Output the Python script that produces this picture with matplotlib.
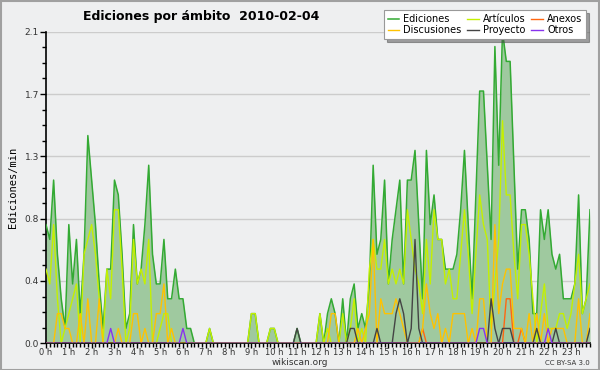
import numpy as np
import matplotlib
matplotlib.use("Agg")
import matplotlib.pyplot as plt
from matplotlib.patches import Rectangle

# 10-minute bins, edits per minute
ediciones = [
    0.8, 0.7, 1.1, 0.6, 0.3, 0.1,
    0.8, 0.4, 0.7, 0.2, 0.6, 1.4,
    1.1, 0.8, 0.4, 0.1, 0.5, 0.5,
    1.1, 1.0, 0.6, 0.1, 0.2, 0.8,
    0.4, 0.5, 0.8, 1.2, 0.6, 0.4,
    0.4, 0.7, 0.3, 0.3, 0.5, 0.3,
    0.3, 0.1, 0.1, 0, 0, 0,
    0, 0.1, 0, 0, 0, 0,
    0, 0, 0, 0, 0, 0,
    0.2, 0.2, 0, 0, 0, 0.1,
    0.1, 0, 0, 0, 0, 0,
    0.1, 0, 0, 0, 0, 0,
    0.2, 0, 0.2, 0.3, 0.2, 0,
    0.3, 0, 0.3, 0.4, 0.1, 0.2,
    0.1, 0.4, 1.2, 0.6, 0.7, 1.1,
    0.4, 0.7, 0.9, 1.1, 0.4, 1.1,
    1.1, 1.3, 0.8, 0.3, 1.3, 0.8,
    1.0, 0.7, 0.7, 0.5, 0.5, 0.5,
    0.6, 0.9, 1.3, 0.8, 0.3, 1.0,
    1.7, 1.7, 1.2, 0.7, 2.0, 1.2,
    2.1, 1.9, 1.9, 1.2, 0.5, 0.9,
    0.9, 0.7, 0.2, 0.2, 0.9, 0.7,
    0.9, 0.6, 0.5, 0.6, 0.3, 0.3,
    0.3, 0.4, 1.0, 0.2, 0.3, 0.9,
]
articulos = [
    0.5, 0.4, 0.8, 0.3, 0, 0.1,
    0.2, 0.3, 0.4, 0, 0.6, 0.7,
    0.8, 0.6, 0.3, 0, 0.5, 0.3,
    0.9, 0.9, 0.5, 0, 0.1, 0.7,
    0.4, 0.5, 0.4, 0.7, 0, 0,
    0.1, 0.2, 0.2, 0, 0, 0,
    0, 0, 0, 0, 0, 0,
    0, 0.1, 0, 0, 0, 0,
    0, 0, 0, 0, 0, 0,
    0.2, 0.2, 0, 0, 0, 0.1,
    0.1, 0, 0, 0, 0, 0,
    0, 0, 0, 0, 0, 0,
    0.2, 0, 0.1, 0, 0, 0,
    0.2, 0, 0.1, 0.3, 0, 0.1,
    0, 0.5, 0.7, 0.5, 0.5, 0.7,
    0.4, 0.5, 0.4, 0.5, 0.4, 0.9,
    0.7, 0.5, 0.4, 0.2, 0.7, 0.4,
    0.9, 0.7, 0.7, 0.4, 0.5, 0.3,
    0.3, 0.6, 0.9, 0.6, 0.2, 0.6,
    1.0, 0.8, 0.7, 0.1, 0.4, 0.7,
    1.5, 1.0, 1.0, 0.6, 0.3, 0.8,
    0.8, 0.6, 0.3, 0, 0.2, 0.4,
    0.1, 0.1, 0.1, 0.2, 0.2, 0.1,
    0.2, 0.4, 0.6, 0.2, 0.3, 0.4,
]
discusiones = [
    0, 0, 0, 0.2, 0.2, 0.1,
    0.1, 0, 0, 0.2, 0, 0.3,
    0, 0, 0.3, 0, 0, 0,
    0, 0.1, 0, 0, 0, 0.2,
    0.2, 0, 0.1, 0, 0, 0.2,
    0.2, 0.4, 0, 0.1, 0, 0,
    0, 0, 0, 0, 0, 0,
    0, 0, 0, 0, 0, 0,
    0, 0, 0, 0, 0, 0,
    0, 0, 0, 0, 0, 0,
    0, 0, 0, 0, 0, 0,
    0, 0, 0, 0, 0, 0,
    0, 0, 0, 0.2, 0.2, 0,
    0, 0, 0, 0, 0.1, 0,
    0.1, 0.2, 0.7, 0, 0.3, 0.2,
    0.2, 0.2, 0.3, 0.2, 0.1, 0,
    0, 0, 0, 0.1, 0.4, 0.2,
    0.1, 0.2, 0, 0.1, 0, 0.2,
    0.2, 0.2, 0.2, 0, 0.1, 0,
    0.3, 0.3, 0, 0, 0.8, 0.2,
    0.4, 0.5, 0.5, 0.1, 0.1, 0.1,
    0, 0.2, 0, 0.2, 0, 0.2,
    0, 0.1, 0.1, 0.1, 0.1, 0,
    0, 0, 0.3, 0, 0, 0.2,
]
# sparse series: {bin index: value}
proyecto_pts = {66: 0.1, 80: 0.1, 81: 0.1, 87: 0.1, 92: 0.2, 93: 0.3, 94: 0.2,
                96: 0.1, 97: 0.7, 98: 0.1, 117: 0.3, 118: 0.1, 120: 0.1,
                121: 0.1, 122: 0.1, 129: 0.1, 134: 0.1, 143: 0.1}
anexos_pts = {99: 0.1, 121: 0.3, 122: 0.3, 125: 0.1}
otros_pts = {17: 0.1, 36: 0.1, 114: 0.1, 115: 0.1, 132: 0.1}

hour_labels = ["%d h" % h for h in range(24)]


def sparse(pts, n=144):
    out = np.zeros(n)
    for k, v in pts.items():
        out[k] = v
    return out


x = np.arange(144) / 6.0
proyecto = sparse(proyecto_pts)
anexos = sparse(anexos_pts)
otros = sparse(otros_pts)

bg = "#eeeff0"
fig = plt.figure(figsize=(6, 3.7), dpi=100, facecolor=bg)
ax = fig.add_axes([46 / 600, 26.7 / 370, 544 / 600, 311.6 / 370], facecolor=bg)
fig.patches.append(Rectangle((0.001, 0.001), 0.997, 0.996, transform=fig.transFigure,
                             fill=False, edgecolor="#a0a0a0", lw=1.5))

ax.fill_between(x, ediciones, 0, color="#9fc99f", lw=0, zorder=1)
l_ed, = ax.plot(x, ediciones, color="#33aa33", lw=1.1, zorder=3)
l_ar, = ax.plot(x, articulos, color="#c4f000", lw=1.0, zorder=4)
l_an, = ax.plot(x, anexos, color="#ff6611", lw=1.0, zorder=5)
l_di, = ax.plot(x, discusiones, color="#ffc200", lw=1.0, zorder=5)
l_pr, = ax.plot(x, proyecto, color="#444444", lw=1.0, zorder=6)
l_ot, = ax.plot(x, otros, color="#8833ee", lw=1.0, zorder=6)

ax.set_xlim(0, 143 / 6.0)
ax.set_ylim(0, 2.1)

yt = np.linspace(0, 2.1, 6)
ax.set_yticks(yt)
ax.set_yticklabels(["%.1f" % v for v in yt], fontsize=6.5, color="#333333")
ax.set_yticks(np.arange(0, 2.1001, 0.105), minor=True)
ax.set_xticks(np.arange(24))
ax.set_xticklabels(hour_labels, fontsize=6, color="#333333")
ax.set_xticks(np.arange(0, 24, 1 / 6.0), minor=True)
ax.tick_params(axis="y", which="major", direction="out", length=4, width=1, pad=1)
ax.tick_params(axis="x", which="major", direction="out", length=3.5, width=1, pad=0)
ax.tick_params(axis="both", which="minor", direction="out", length=3, width=1)
ax.grid(axis="y", color="#cccccc", lw=1)
ax.set_axisbelow(True)
for s in ["top", "right"]:
    ax.spines[s].set_visible(False)
ax.spines["left"].set_linewidth(1.2)
ax.spines["bottom"].set_linewidth(1.2)

ax.set_ylabel("Ediciones/min", fontsize=7.5, family="DejaVu Sans Mono", labelpad=5)

fig.text(0.335, 0.955, "Ediciones por ámbito  2010-02-04", fontsize=9,
         fontweight="bold", ha="center", va="center")
fig.text(0.5, 0.019, "wikiscan.org", fontsize=6.5, ha="center", va="center", color="#333333")
fig.text(0.983, 0.019, "CC BY-SA 3.0", fontsize=5, ha="right", va="center", color="#333333")

leg = fig.legend([l_ed, l_di, l_ar, l_pr, l_an, l_ot],
                 ["Ediciones", "Discusiones", "Artículos", "Proyecto", "Anexos", "Otros"],
                 ncol=3, loc="upper right", bbox_to_anchor=(0.985, 0.985),
                 fontsize=7, frameon=True, fancybox=False, shadow=True,
                 handlelength=1.2, handletextpad=0.4, columnspacing=0.6,
                 labelspacing=0.1, borderpad=0.4)
leg.get_frame().set_edgecolor("#999999")
leg.get_frame().set_linewidth(0.8)

fig.savefig("out.png", dpi=100, facecolor=bg)
